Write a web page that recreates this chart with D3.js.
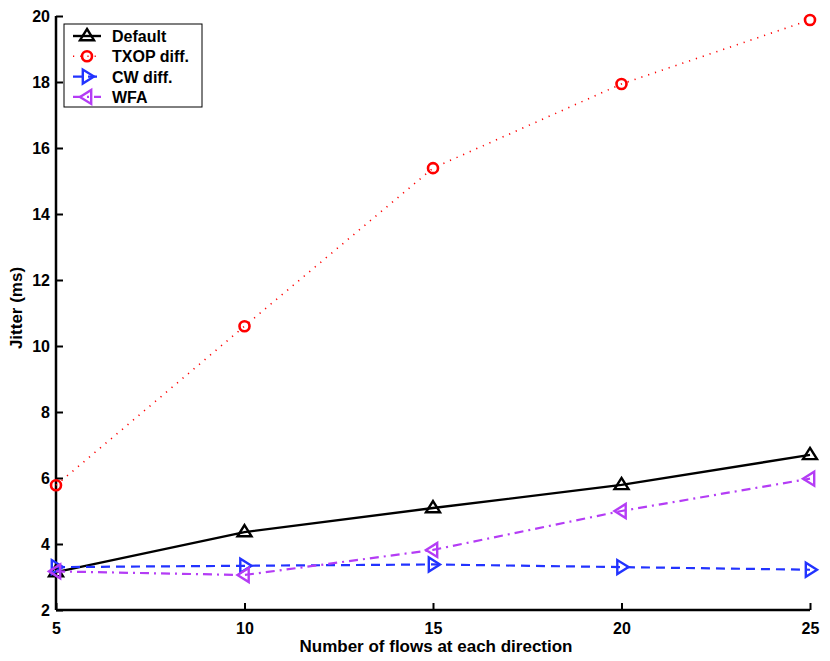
<!DOCTYPE html>
<html>
<head>
<meta charset="utf-8">
<script src="https://cdn.jsdelivr.net/npm/d3@7"></script>
<style>
  body { margin: 0; background: #fff; }
  text { font-family: "Liberation Sans", Arial, sans-serif; font-weight: bold; }
</style>
</head>
<body>
<svg id="chart" width="830" height="661"></svg>
<script>
// dati
var flows = [5, 10, 15, 20, 25];
var defaultJitter = [3.15, 4.36, 5.09, 5.79, 6.70];
var txopJitter = [5.78, 10.6, 15.39, 17.94, 19.88];
var cwJitter = [3.30, 3.34, 3.38, 3.30, 3.22];
var wfaJitter = [3.17, 3.06, 3.82, 5.0, 5.98];
var xTicks = [5, 10, 15, 20, 25];
var yTicks = [2, 4, 6, 8, 10, 12, 14, 16, 18, 20];
var seriesNames = ['Default', 'TXOP diff.', 'CW diff.', 'WFA'];

var svg = d3.select('#chart');
var x = d3.scaleLinear().domain([5, 25]).range([56, 810]);
var y = d3.scaleLinear().domain([2, 20]).range([610, 16]);

var series = [
  { name: seriesNames[0], values: defaultJitter, color: '#000000', dash: null, width: 2.4, marker: 'up' },
  { name: seriesNames[1], values: txopJitter, color: '#ff0000', dash: '1.2,6', width: 1.6, marker: 'circle' },
  { name: seriesNames[2], values: cwJitter, color: '#2233ff', dash: '9,6', width: 2.2, marker: 'right' },
  { name: seriesNames[3], values: wfaJitter, color: '#b43cf5', dash: '9,5,2,5', width: 2.2, marker: 'left' }
];

// assi
var xAxis = d3.axisBottom(x).tickValues(xTicks).tickSize(-7).tickPadding(13);
var yAxis = d3.axisLeft(y).tickValues(yTicks).tickSize(-7).tickPadding(6);

var gx = svg.append('g').attr('transform', 'translate(0,610)').call(xAxis);
var gy = svg.append('g').attr('transform', 'translate(56,0)').call(yAxis);
[gx, gy].forEach(function (g) {
  g.select('.domain').attr('stroke', '#000').attr('stroke-width', 2.5);
  g.selectAll('.tick line').attr('stroke', '#000').attr('stroke-width', 2);
  g.selectAll('.tick text').attr('fill', '#000').style('font-size', '16px');
});
gx.select('.domain').attr('d', 'M56,0H810');
gy.select('.domain').attr('d', 'M0,610V16');

svg.append('text').attr('x', 436).attr('y', 652).attr('text-anchor', 'middle')
  .style('font-size', '17px').text('Number of flows at each direction');
svg.append('text').attr('transform', 'translate(22,308) rotate(-90)').attr('text-anchor', 'middle')
  .style('font-size', '17px').text('Jitter (ms)');

function drawMarker(g, type, cx, cy, color) {
  var s = 7;
  if (type === 'circle') {
    g.append('circle').attr('cx', cx).attr('cy', cy).attr('r', 5)
      .attr('fill', 'none').attr('stroke', color).attr('stroke-width', 2.6);
    return;
  }
  var pts;
  if (type === 'up') pts = [[cx, cy - s], [cx + s, cy + s * 0.6], [cx - s, cy + s * 0.6]];
  if (type === 'right') pts = [[cx + s, cy], [cx - s * 0.6, cy - s], [cx - s * 0.6, cy + s]];
  if (type === 'left') pts = [[cx - s, cy], [cx + s * 0.6, cy - s], [cx + s * 0.6, cy + s]];
  g.append('path').attr('d', 'M' + pts.join('L') + 'Z')
    .attr('fill', 'none').attr('stroke', color).attr('stroke-width', 2.4).attr('stroke-linejoin', 'miter');
}

var line = d3.line().x(function (d, i) { return x(flows[i]); }).y(function (d) { return y(d); });

series.forEach(function (s) {
  var g = svg.append('g');
  g.append('path').datum(s.values).attr('d', line)
    .attr('fill', 'none').attr('stroke', s.color).attr('stroke-width', s.width)
    .attr('stroke-dasharray', s.dash);
  s.values.forEach(function (v, i) {
    drawMarker(g, s.marker, x(flows[i]), y(v), s.color);
  });
});

// legenda
var leg = svg.append('g');
leg.append('rect').attr('x', 64).attr('y', 24).attr('width', 138).attr('height', 83)
  .attr('fill', '#fff').attr('stroke', '#000').attr('stroke-width', 1);
series.forEach(function (s, i) {
  var ly = 36 + i * 20.3;
  leg.append('line').attr('x1', 73).attr('x2', 101).attr('y1', ly).attr('y2', ly)
    .attr('stroke', s.color).attr('stroke-width', s.width).attr('stroke-dasharray', s.dash);
  drawMarker(leg, s.marker, 87, ly, s.color);
  leg.append('text').attr('x', 112).attr('y', ly + 6).style('font-size', '16px').text(s.name);
});
</script>
</body>
</html>
